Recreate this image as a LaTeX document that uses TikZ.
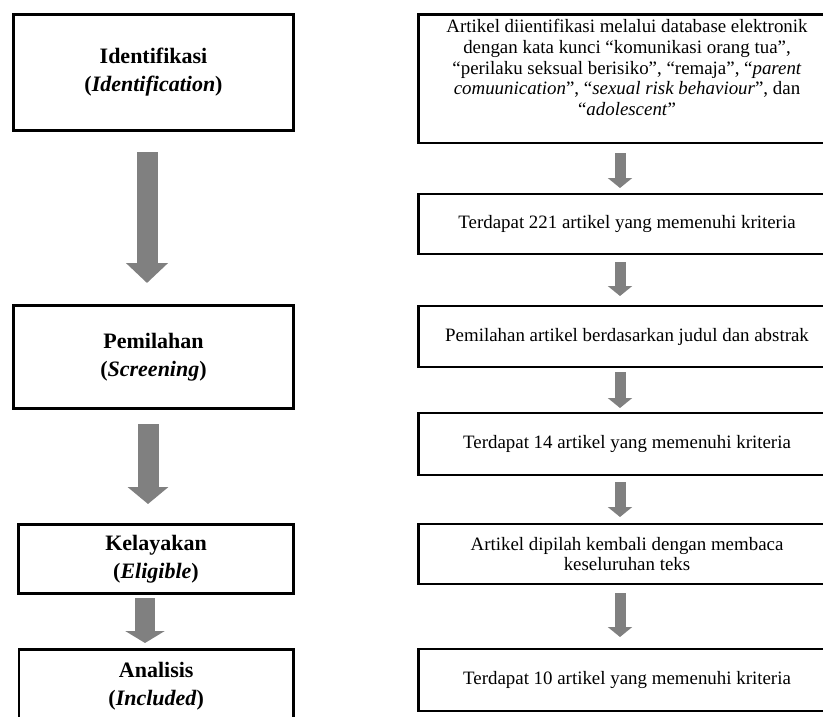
\documentclass[tikz,border=0pt]{standalone}
\usepackage{fontspec}
\setmainfont{Liberation Serif}
\usepackage{tikz}
\usepackage{color}
\usetikzlibrary{arrows.meta}
\definecolor{arrowgray}{RGB}{128,128,128}

\begin{document}
\begin{tikzpicture}[%
      x=1pt, y=-1pt,
      stage/.style={draw, line width=2.6pt, outer sep=0pt, inner sep=0pt, align=center, font=\fontsize{22}{28}\selectfont\bfseries},
      notetext/.style={align=center, inner sep=0pt, outer sep=0pt, font=\fontsize{18.9}{20.8}\selectfont},
      substep/.style={notetext, draw, line width=2.6pt, minimum width=417.5pt},
      bigarrow/.style={draw=arrowgray, line width=21pt, -{Triangle[width=41pt,length=20pt]}},
      smallarrow/.style={draw=arrowgray, line width=11pt, -{Triangle[width=24pt,length=10pt]}},
      ]
      \useasboundingbox (0,0) rectangle (823,717);
      \clip (0,0) rectangle (823,717);

      \node[stage, minimum width=280pt, minimum height=116pt] (idf) at (153.5,72.5) {Identifikasi\\(\textit{Identification})};
      \node[stage, minimum width=280pt, minimum height=103pt] (pml) at (153.5,357) {Pemilahan\\(\textit{Screening})};
      \node[stage, minimum width=275pt, minimum height=69pt] (kly) at (156,559) {Kelayakan\\(\textit{Eligible})};
      \node[stage, minimum width=274.5pt, minimum height=73pt] (ans) at (156.25,686) {Analisis\\(\textit{Included})};

      \node[substep, minimum height=128.5pt] (art) at (627,78.75) {};
      \node[notetext] (arttxt) at (627,67.5) {Artikel diientifikasi melalui database elektronik\\dengan kata kunci “komunikasi orang tua”,\\“perilaku seksual berisiko”, “remaja”, “\textit{parent}\\\textit{comuunication}”, “\textit{sexual risk behaviour}”, dan\\“\textit{adolescent}”};
      \node[substep, minimum height=60pt] (n221) at (627,224) {Terdapat 221 artikel yang memenuhi kriteria};
      \node[substep, minimum height=61pt] (jdl) at (627,336.5) {Pemilahan artikel berdasarkan judul dan abstrak};
      \node[substep, minimum height=62pt] (n14) at (627,444) {Terdapat 14 artikel yang memenuhi kriteria};
      \node[substep, minimum height=60pt] (baca) at (627,554) {Artikel dipilah kembali dengan membaca\\keseluruhan teks};
      \node[substep, minimum height=62pt] (n10) at (627,680) {Terdapat 10 artikel yang memenuhi kriteria};

      \draw[bigarrow, shorten <=21.5pt, shorten >=22.5pt] ([xshift=-6.5pt]idf.south) -- ([xshift=-6.5pt]pml.north);
      \draw[bigarrow, shorten <=15.5pt, shorten >=20.5pt, -{Triangle[width=40pt,length=17pt]}] ([xshift=-5.5pt]pml.south) -- ([xshift=-8pt]kly.north);
      \draw[bigarrow, line width=20pt, shorten <=4.5pt, shorten >=6.5pt, -{Triangle[width=39pt,length=12pt]}] ([xshift=-11pt]kly.south) -- ([xshift=-11.25pt]ans.north);

      \draw[smallarrow, shorten <=10pt, shorten >=6pt] ([xshift=-7pt]art.south) -- ([xshift=-7pt]n221.north);
      \draw[smallarrow, shorten <=8pt, shorten >=10pt] ([xshift=-7pt]n221.south) -- ([xshift=-7pt]jdl.north);
      \draw[smallarrow, shorten <=5pt, shorten >=5pt] ([xshift=-7pt]jdl.south) -- ([xshift=-7pt]n14.north);
      \draw[smallarrow, shorten <=7pt, shorten >=7pt] ([xshift=-7pt]n14.south) -- ([xshift=-7pt]baca.north);
      \draw[smallarrow, shorten <=9pt, shorten >=12pt] ([xshift=-7pt]baca.south) -- ([xshift=-7pt]n10.north);
      \end{tikzpicture}
\end{document}
